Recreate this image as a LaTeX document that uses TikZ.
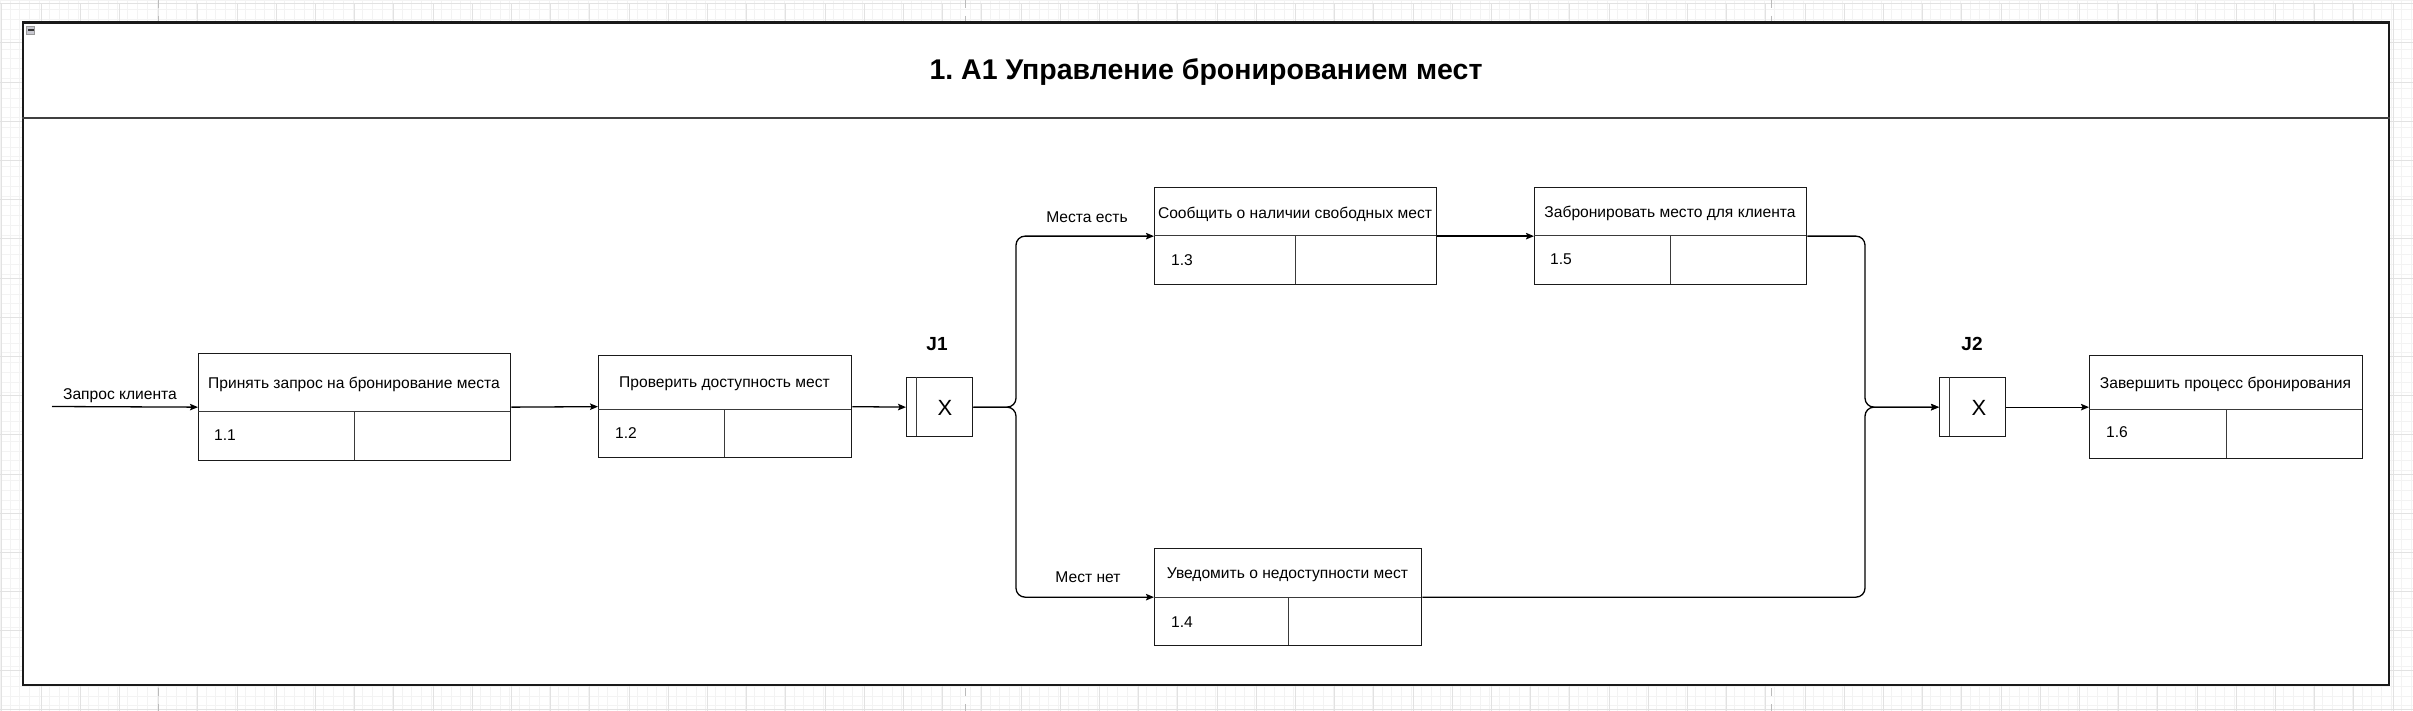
\documentclass[tikz,border=0pt]{standalone}
\usepackage{fontspec}
\setmainfont{Liberation Sans}
\usetikzlibrary{arrows.meta}
\frenchspacing
\definecolor{gridminor}{HTML}{F3F3F3}
\definecolor{gridmajor}{HTML}{E2E2E2}
\definecolor{linec}{HTML}{1A1A1A}
\definecolor{sepc}{HTML}{3A3A3A}
\definecolor{pagebrk}{HTML}{BBBBBB}
\definecolor{iconfill}{HTML}{C8C8D0}
\begin{document}
\begin{tikzpicture}[x=1pt,y=-1pt,
  box/.style={draw=linec, line width=1.3pt, fill=white, inner sep=0pt, anchor=north west},
  sep/.style={draw=sepc, line width=1pt},
  txt/.style={inner sep=0pt, anchor=base, font=\fontsize{15.6}{18}\selectfont},
  jlabel/.style={inner sep=0pt, anchor=base, font=\bfseries\fontsize{19}{22}\selectfont},
  xlabel/.style={inner sep=0pt, anchor=base, font=\fontsize{22}{26}\selectfont},
  conn/.style={draw=black, line width=1.3pt, -{Stealth[length=8pt,width=6.5pt,inset=1.5pt]}},
  branch/.style={conn, rounded corners=9pt}
]
\useasboundingbox (0,0) rectangle (2413,711);
% background grid
\fill[white] (0,0) rectangle (2413,711);
\draw[gridminor, line width=0.6pt] (0,0) grid[step=9.8pt] (2413,711);
\draw[gridmajor, line width=0.8pt, shift={(1.7pt,-3.6pt)}] (-39.2,0) grid[step=39.2pt] (2420,720);
\foreach \px in {158,965,1771}
  \draw[pagebrk, line width=1pt, dash pattern=on 8pt off 8pt] (\px,0) -- (\px,711);
% frame
\node[draw=linec, line width=2.4pt, fill=white, inner sep=0pt, anchor=north west,
      minimum width=2366pt, minimum height=662.5pt] (frame) at (22,21.5) {};
\draw[draw=gray!50!black, line width=2pt] (frame.west |- 0,118) -- (frame.east |- 0,118);
\node[draw=gray!80, fill=iconfill, line width=0.8pt, minimum size=8.5pt, inner sep=0pt] (icon) at (30.5,30.5) {};
\fill[black!80] (27.5,29.5) rectangle (33.5,31.5);
% title
\node[inner sep=0pt, anchor=base, font=\bfseries\fontsize{28.5}{34}\selectfont] (title) at (1206,80)
  {1. A1 Управление бронированием мест};

% box 1.1
\node[box, minimum width=312pt, minimum height=107pt] (b11) at (198,353) {};
\draw[sep] (198,411) -- (510,411) (354,411) -- (354,460);
\node[txt] (t11) at (354,388.5) {Принять запрос на бронирование места};
\node[txt] (n11) at (225,440.5) {1.1};
% box 1.2
\node[box, minimum width=253pt, minimum height=102pt] (b12) at (598,355) {};
\draw[sep] (598,409) -- (851,409) (724,409) -- (724,457);
\node[txt] (t12) at (724.5,387.5) {Проверить доступность мест};
\node[txt] (n12) at (626,438.5) {1.2};
% box 1.3
\node[box, minimum width=282pt, minimum height=97pt] (b13) at (1154,187) {};
\draw[sep] (1154,236) -- (1436,236) (1295,236) -- (1295,284);
\node[txt] (t13) at (1295,218.5) {Сообщить о наличии свободных мест};
\node[txt] (n13) at (1182,265.5) {1.3};
% box 1.5
\node[box, minimum width=272pt, minimum height=97pt] (b15) at (1534,187) {};
\draw[sep] (1534,236) -- (1806,236) (1670,236) -- (1670,284);
\node[txt] (t15) at (1670,217.5) {Забронировать место для клиента};
\node[txt] (n15) at (1561,264.5) {1.5};
% box 1.4
\node[box, minimum width=267pt, minimum height=97pt] (b14) at (1154,548) {};
\draw[sep] (1154,597) -- (1421,597) (1288,597) -- (1288,645);
\node[txt] (t14) at (1287.5,578.5) {Уведомить о недоступности мест};
\node[txt] (n14) at (1182,627.5) {1.4};
% box 1.6
\node[box, minimum width=273pt, minimum height=103pt] (b16) at (2089,355) {};
\draw[sep] (2089,409) -- (2362,409) (2226,409) -- (2226,458);
\node[txt] (t16) at (2225.5,388.5) {Завершить процесс бронирования};
\node[txt] (n16) at (2117,437.5) {1.6};

% junctions
\node[box, minimum width=66pt, minimum height=59pt] (j1) at (906,377) {};
\draw[sep] (916,377) -- (916,436);
\node[xlabel] (x1) at (945,415) {X};
\node[jlabel] (lj1) at (937,351) {J1};
\node[box, minimum width=66pt, minimum height=59pt] (j2) at (1939,377) {};
\draw[sep] (1949,377) -- (1949,436);
\node[xlabel] (x2) at (1979,415) {X};
\node[jlabel] (lj2) at (1972,351) {J2};

% connectors
\coordinate (in) at (52,406.5);
\coordinate (s1) at (1016,0);
\coordinate (s2) at (1865,0);
\draw[conn] (in) -- (b11.west);
\node[txt] (lin) at (120,399.5) {Запрос клиента};
\draw[conn] (b11.east) -- (b12.west);
\draw[conn] (b12.east) -- (j1.west);
\draw[branch] (j1.east) -| (b13.west -| s1) -- (b13.west);
\draw[branch] (j1.east) -| (b14.west -| s1) -- (b14.west);
\node[txt] (lyes) at (1087,222.5) {Места есть};
\node[txt] (lno) at (1088,582.5) {Мест нет};
\draw[conn] (b13.east) -- (b15.west);
\draw[branch] (b15.east) -| (j2.west -| s2) -- (j2.west);
\draw[branch] (b14.east) -| (j2.west -| s2) -- (j2.west);
\draw[conn] (j2.east) -- (b16.west);
\end{tikzpicture}
\end{document}
